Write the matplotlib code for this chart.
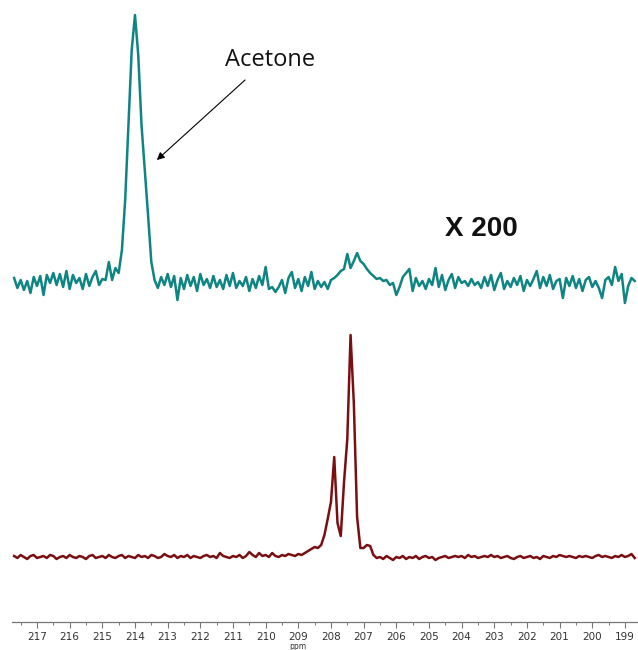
import numpy as np
import matplotlib
matplotlib.use("Agg")
import matplotlib.pyplot as plt
from matplotlib.ticker import MultipleLocator

# chemical shift grid, 0.1 ppm steps from 217.7 down to 198.7
ppm = np.round(np.arange(217.7, 198.65, -0.1), 2)

# upper trace (x 200 scale), intensity above its own baseline
teal_int = [
    5, -5, 3, -7, 2, -10, 6, -3, 7, -12,
    8, 0, 10, -2, 9, -4, 12, -6, 8, 0,
    5, -6, 9, -3, 6, 12, -2, 4, 3, 21,
    3, 15, 10, 33, 83, 158, 233, 268, 228, 158,
    113, 68, 21, 3, -5, 6, -2, 9, -4, 7,
    -17, 5, -6, 8, -3, 6, -8, 9, -2, 4,
    -5, 7, -4, 3, -6, 8, -3, 10, -5, 2,
    -3, 6, -8, 4, -5, 7, -2, 16, -6, -4,
    -9, -4, 3, -10, 5, 11, -5, 4, -8, 6,
    -3, 11, -6, 2, -4, 1, -6, 3, 5, 8,
    12, 14, 29, 15, 22, 30, 22, 19, 14, 10,
    7, 4, 5, 2, 3, -2, 0, -12, -4, 6,
    10, 14, -8, 5, -3, 2, -6, 4, -2, 15,
    -4, 8, -7, 3, 9, -5, 6, 0, 2, -3,
    4, -2, 1, -5, 6, -3, 8, -7, 3, 10,
    -6, 2, -4, 5, -2, 7, -8, 3, -3, 4,
    12, -5, 6, -3, 8, -6, 2, 4, -15, 5,
    -3, 7, -5, 4, -8, 3, 6, -4, 2, -5,
    -15, 3, 6, -2, 16, 2, 9, -20, -3, 5, 2,
]

# lower trace, intensity above its own baseline
red_int = [
    1, -1, 2, 0, -2, 1, 2, -1, 0, 1,
    -1, 2, 1, -2, 0, 1, -1, 2, 0, -1,
    1, 0, -2, 1, 2, -1, 0, 1, -1, 2,
    0, -1, 1, 2, -1, 1, 0, -1, 2, 0,
    1, -1, 2, 1, -1, 0, 3, 1, 0, 2,
    -1, 1, 0, 2, -1, 1, 0, -1, 1, 2,
    0, 1, -1, 4, 1, 0, -1, 1, 0, 2,
    -1, 1, 5, 2, 0, 4, 1, 2, 0, 4,
    1, 0, 2, 1, 3, 2, 1, 3, 2, 4,
    6, 8, 10, 9, 12, 22, 38, 55, 100, 34,
    21, 75, 118, 222, 154, 40, 9, 9, 12, 11,
    2, -1, 0, -2, 1, -1, -3, 0, -1, 1,
    -2, 0, -1, 1, -2, 0, 1, -1, 0, -3,
    -1, 0, 1, -1, 0, 1, 0, 1, -1, 2,
    0, 1, -1, 0, 1, 0, 2, 0, 1, -1,
    0, 1, -1, -2, 0, 1, -1, 0, 1, -1,
    0, -2, 1, 0, -1, 1, 0, 2, 1, 0,
    1, 0, -1, 1, 0, 1, 0, -1, 1, 2,
    0, 1, 0, -1, 1, 0, 2, 0, 1, 3, -1,
]

teal_offset = 339
red_offset = 65

fig = plt.figure(figsize=(6.38, 6.5), dpi=100)
ax = fig.add_axes([12 / 638, 28 / 650, 626 / 638, 622 / 650])

ax.plot(ppm, np.array(teal_int) + teal_offset, color="#0e8582", lw=1.8)
ax.plot(ppm, np.array(red_int) + red_offset, color="#7a0f12", lw=1.8)

ax.set_xlim(217.765, 198.6)
ax.set_ylim(0, 622)

for s in ["top", "left", "right"]:
    ax.spines[s].set_visible(False)
ax.spines["bottom"].set_color("#777777")
ax.spines["bottom"].set_linewidth(0.9)
ax.set_yticks([])
ax.xaxis.set_major_locator(MultipleLocator(1))
ax.xaxis.set_minor_locator(MultipleLocator(0.5))
ax.tick_params(axis="x", which="major", length=4, width=0.8, color="#777777",
               labelsize=7.5, labelcolor="#333333", pad=3.5)
ax.tick_params(axis="x", which="minor", length=2.5, width=0.7, color="#777777")
ax.set_xticklabels([str(int(round(t))) for t in ax.get_xticks()])

ax.text(209, -20, "ppm", ha="center", va="top", fontsize=5.5, color="#333333",
        clip_on=False)

ax.text(209.87, 562, "Acetone", ha="center", va="center", fontsize=17,
        family="Open Sans", color="#111111")
ax.annotate("", xy=(213.33, 462), xytext=(210.63, 542),
            arrowprops=dict(arrowstyle="-|>", color="black", lw=0.8,
                            mutation_scale=11, shrinkA=0, shrinkB=0))
ax.text(203.41, 393, "X 200", ha="center", va="center", fontsize=20,
        fontweight="bold", family="Liberation Sans", color="#111111")

fig.savefig("out.png", dpi=100)
